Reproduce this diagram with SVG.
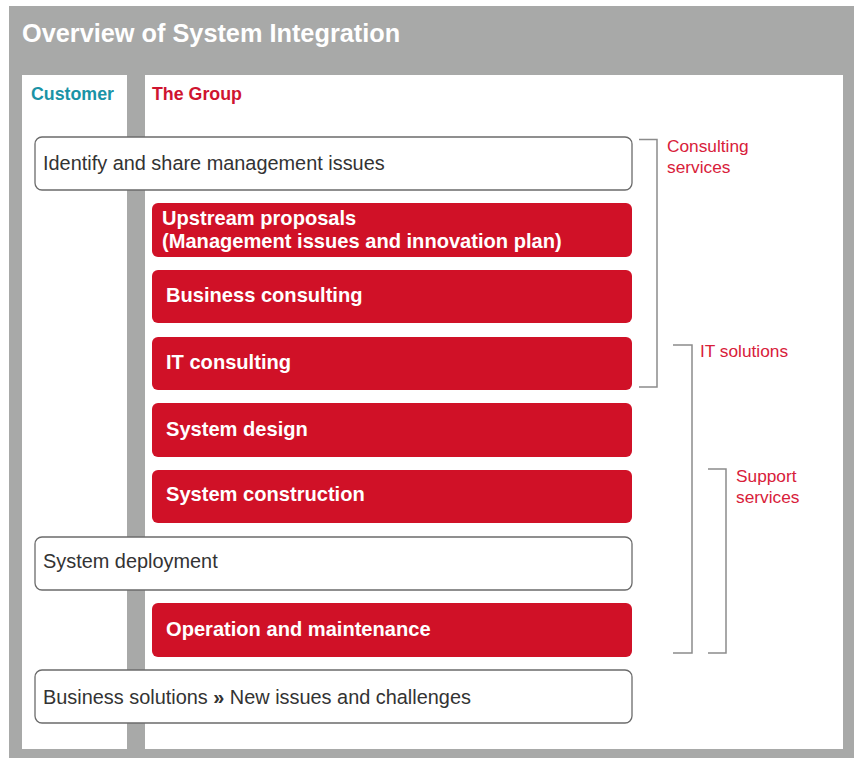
<svg xmlns="http://www.w3.org/2000/svg" width="854" height="758" viewBox="0 0 854 758">
<style>
.wbox{fill:#fff;stroke:#6b6b6b;stroke-width:1.3}
.rbox{fill:#d01127;stroke:none}
.wt{font-family:"Liberation Sans",Arial,sans-serif;font-size:19.9px;fill:#333}
.rt{font-family:"Liberation Sans",Arial,sans-serif;font-size:20.1px;font-weight:bold;fill:#fff}
.lbl{font-family:"Liberation Sans",Arial,sans-serif;font-size:17.3px;fill:#d8203a}
.br{fill:none;stroke:#8c8c8c;stroke-width:1.5}
</style>
<rect x="9" y="6" width="845" height="752" fill="#a8a9a8"/>
<text x="22" y="42" font-family="'Liberation Sans',Arial,sans-serif" font-size="25.3" font-weight="bold" fill="#fff">Overview of System Integration</text>
<rect x="22" y="75" width="105" height="674" fill="#fff"/>
<rect x="145" y="75" width="698" height="674" fill="#fff"/>
<text x="31" y="100" font-family="'Liberation Sans',Arial,sans-serif" font-size="17.8" font-weight="bold" fill="#1a93a6">Customer</text>
<text x="152" y="100" font-family="'Liberation Sans',Arial,sans-serif" font-size="17.8" font-weight="bold" fill="#cf1430">The Group</text>
<g id="n1"><rect class="wbox" x="35" y="137" width="597" height="53" rx="7"/><text class="wt" x="43" y="170">Identify and share management issues</text></g>
<g id="n2"><rect class="rbox" x="152" y="203" width="480" height="54" rx="6"/><text class="rt" x="162" y="225">Upstream proposals</text><text class="rt" x="162" y="248">(Management issues and innovation plan)</text></g>
<g id="n3"><rect class="rbox" x="152" y="270" width="480" height="53" rx="6"/><text class="rt" x="166" y="302">Business consulting</text></g>
<g id="n4"><rect class="rbox" x="152" y="337" width="480" height="53" rx="6"/><text class="rt" x="166" y="369">IT consulting</text></g>
<g id="n5"><rect class="rbox" x="152" y="403" width="480" height="54" rx="6"/><text class="rt" x="166" y="436">System design</text></g>
<g id="n6"><rect class="rbox" x="152" y="470" width="480" height="53" rx="6"/><text class="rt" x="166" y="501">System construction</text></g>
<g id="n7"><rect class="wbox" x="35" y="537" width="597" height="53" rx="7"/><text class="wt" x="43" y="568">System deployment</text></g>
<g id="n8"><rect class="rbox" x="152" y="603" width="480" height="54" rx="6"/><text class="rt" x="166" y="636">Operation and maintenance</text></g>
<g id="n9"><rect class="wbox" x="35" y="670" width="597" height="53" rx="7"/><text class="wt" x="43" y="704">Business solutions <tspan font-weight="bold">»</tspan> New issues and challenges</text></g>
<g id="connectors">
<path class="br" d="M639 139.5H657V387H639"/>
<path class="br" d="M673 345H692V653H673"/>
<path class="br" d="M708 469H726V653H708"/>
</g>
<g id="labels">
<text class="lbl" x="667" y="152">Consulting</text>
<text class="lbl" x="667" y="173">services</text>
<text class="lbl" x="700" y="357">IT solutions</text>
<text class="lbl" x="736" y="482">Support</text>
<text class="lbl" x="736" y="503">services</text>
</g>
</svg>
